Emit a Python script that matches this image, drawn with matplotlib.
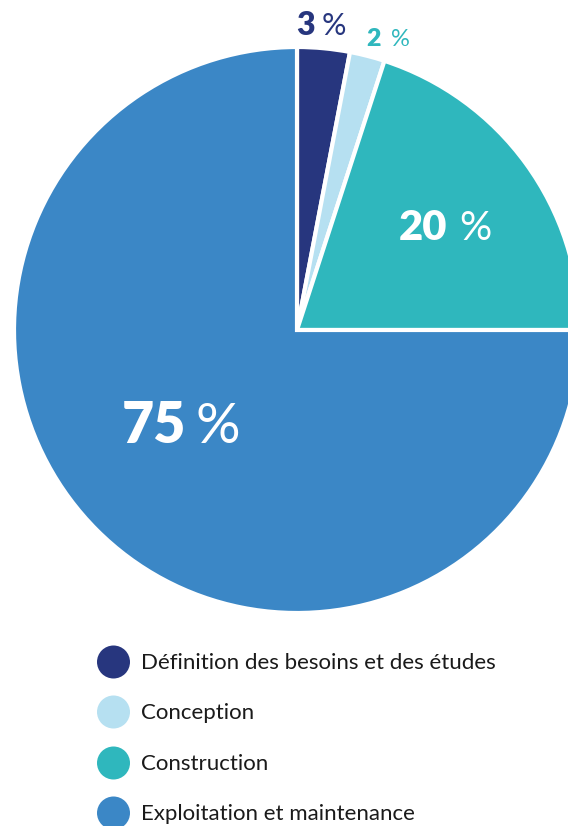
import matplotlib
matplotlib.use("Agg")
import matplotlib.pyplot as plt

categories = ["Définition des besoins et des études", "Conception", "Construction", "Exploitation et maintenance"]
values = [3, 2, 20, 75]
colors = ["#27367E", "#B6E0F1", "#2FB7BD", "#3B87C6"]
label_colors = ["#27367E", "#2FB7BD", "white", "white"]

W, H = 568, 826
fig = plt.figure(figsize=(W / 100, H / 100), dpi=100)
ax = fig.add_axes([0, 0, 1, 1])

def py(y):
    return H - y

cx, cy, r = 297, 330, 283
ax.pie(values, colors=colors, startangle=90, counterclock=False,
       center=(cx, py(cy)), radius=r, frame=True,
       wedgeprops=dict(edgecolor="white", linewidth=3))
ax.set_xlim(0, W)
ax.set_ylim(0, H)
ax.set_aspect("equal")
ax.axis("off")

# label layout: (number left x, percent left x, baseline y px, number size, percent size)
label_layout = [(296, 322, 35, 23, 22), (366, 391, 46, 18, 17), (399, 459, 240, 30, 29), (122, 195, 443, 40, 40)]
fam = ["Lato", "DejaVu Sans"]
for v, col, (x, xp, y, s1, s2) in zip(values, label_colors, label_layout):
    ax.text(x, py(y), f"{v}", fontsize=s1, fontweight="heavy", color=col,
            family=fam, ha="left", va="baseline")
    ax.text(xp, py(y), "%", fontsize=s2, fontweight="normal", color=col,
            family=fam, ha="left", va="baseline")

leg_y = [662, 712, 763, 813]
for cat, col, y in zip(categories, colors, leg_y):
    ax.scatter([113.5], [py(y)], s=(33 * 0.72) ** 2, color=col, edgecolor="none", zorder=5)
    ax.text(141, py(y) - 1, cat, fontsize=16, color="#1a1a1a", family=["Lato", "DejaVu Sans"],
            fontweight="normal", ha="left", va="center")

fig.savefig("out.png", dpi=100)
